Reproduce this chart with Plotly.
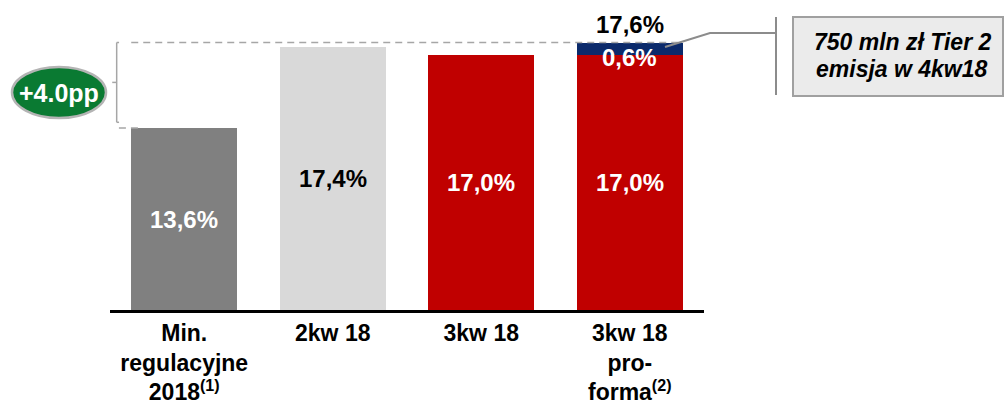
import plotly.graph_objects as go

# ---------------- data ----------------
categories = [
    "Min.<br>regulacyjne<br>2018<sup>(1)</sup>",
    "2kw 18",
    "3kw 18",
    "3kw 18<br>pro-<br>forma<sup>(2)</sup>",
]
base_values = [13.6, 17.4, 17.0, 17.0]
tier2_values = [0.6]          # stacked on the last bar
tier2_index = [3]
bar_colors = ["#808080", "#D9D9D9", "#C00000", "#C00000"]
label_colors = ["white", "black", "white", "white"]
tier2_color = "#0B2A6B"
note_lines = ["750 mln zł Tier 2", "emisja w 4kw18"]

# ---------------- layout constants ----------------
W, H = 1005, 405
ML, MR, MT, MB = 110, 301, 10, 95
PW, PH = W - ML - MR, H - MT - MB
Y_MIN = 5.1
Y_MAX = Y_MIN + PH / 21.4
BAR_W = 0.714
FONT = "Arial, 'Liberation Sans', sans-serif"
GREY = "#A6A6A6"


def fmt(v):
    return f"{v:.1f}".replace(".", ",") + "%"


def pxx(p):
    return (p - ML) / PW


def pxy(p):
    return (H - MB - p) / PH


xs = list(range(len(categories)))
total = base_values[tier2_index[0]] + tier2_values[0]
diff = total - base_values[0]

fig = go.Figure()
fig.add_trace(go.Bar(x=xs, y=base_values, marker=dict(color=bar_colors, line=dict(width=0)),
                     width=BAR_W, hoverinfo="skip", showlegend=False))
fig.add_trace(go.Bar(x=tier2_index, y=tier2_values, marker=dict(color=tier2_color, line=dict(width=0)),
                     width=BAR_W, hoverinfo="skip", showlegend=False))

annotations = []
for i, v in enumerate(base_values):
    annotations.append(dict(x=i, y=(Y_MIN + v) / 2, xref="x", yref="y", text=f"<b>{fmt(v)}</b>",
                            xanchor="center", yanchor="middle",
                            showarrow=False, font=dict(family=FONT, size=24, color=label_colors[i])))
# tier 2 segment label
annotations.append(dict(x=tier2_index[0], y=base_values[tier2_index[0]] + tier2_values[0] / 2,
                        xref="x", yref="y", yshift=-9, text=f"<b>{fmt(tier2_values[0])}</b>",
                        xanchor="center", yanchor="middle",
                        showarrow=False, font=dict(family=FONT, size=24, color="white")))
# total label
annotations.append(dict(x=tier2_index[0], y=total, xref="x", yref="y", yanchor="bottom", yshift=3,
                        xanchor="center", text=f"<b>{fmt(total)}</b>", showarrow=False,
                        font=dict(family=FONT, size=24, color="black")))
# +4.0pp badge text
annotations.append(dict(x=pxx(59), y=pxy(93), xref="paper", yref="paper",
                        xanchor="center", yanchor="middle",
                        text=f"<b>+{diff:.1f}pp</b>", showarrow=False,
                        font=dict(family=FONT, size=25, color="white")))
# note box text (two lines)
for line, py in zip(note_lines, [42, 69]):
    annotations.append(dict(x=pxx(902), y=pxy(py), xref="paper", yref="paper",
                            xanchor="center", yanchor="middle",
                            text=f"<b><i>{line}</i></b>", showarrow=False,
                            font=dict(family=FONT, size=23, color="black")))

shapes = []
dash_line = dict(color=GREY, width=1.5, dash="7px,5px")
# dashed reference lines
shapes.append(dict(type="line", xref="x", yref="y", x0=-BAR_W / 2, x1=xs[-1] + BAR_W / 2,
                   y0=total, y1=total, line=dash_line))
shapes.append(dict(type="line", xref="x", yref="y", x0=-0.44, x1=-0.30,
                   y0=base_values[0], y1=base_values[0], line=dash_line))
# bracket
br_x, br_hook, br_tick = -0.455, -0.439, -0.485
br_bot = Y_MIN + (H - MB - 122.3) / 21.4
br_mid = (total + br_bot) / 2
bl = dict(color=GREY, width=1.5)
shapes += [
    dict(type="line", xref="x", yref="y", x0=br_x, x1=br_x, y0=total, y1=br_bot, line=bl),
    dict(type="line", xref="x", yref="y", x0=br_x, x1=br_hook, y0=total, y1=total, line=bl),
    dict(type="line", xref="x", yref="y", x0=br_x, x1=br_hook, y0=br_bot, y1=br_bot, line=bl),
    dict(type="line", xref="x", yref="y", x0=br_tick, x1=br_x, y0=br_mid, y1=br_mid, line=bl),
]
# green ellipse
shapes.append(dict(type="circle", xref="paper", yref="paper", x0=pxx(12), x1=pxx(106),
                   y0=pxy(118), y1=pxy(67), fillcolor="#0A7A32", line=dict(color="#B4B4B4", width=2.5),
                   layer="above"))
# connector from tier2 segment to note
shapes.append(dict(type="path", xref="paper", yref="paper",
                   path=f"M {pxx(665)},{pxy(47)} L {pxx(710)},{pxy(33)} L {pxx(776)},{pxy(33)}",
                   line=dict(color="#8C8C8C", width=2)))
shapes.append(dict(type="line", xref="paper", yref="paper", x0=pxx(776), x1=pxx(776),
                   y0=pxy(17), y1=pxy(95), line=dict(color="#8C8C8C", width=2)))
# note box
shapes.append(dict(type="rect", xref="paper", yref="paper", x0=pxx(793), x1=pxx(1003),
                   y0=pxy(96), y1=pxy(17), fillcolor="#EBEBEB", line=dict(color="#A0A0A0", width=2)))

fig.update_layout(
    width=W, height=H, autosize=False,
    margin=dict(l=ML, r=MR, t=MT, b=MB, autoexpand=False),
    barmode="stack",
    plot_bgcolor="white", paper_bgcolor="white",
    annotations=annotations, shapes=shapes,
    xaxis=dict(tickvals=xs, ticktext=[f"<b>{c}</b>" for c in categories], range=[-0.5, len(xs) - 0.5],
               showline=True, linecolor="black", linewidth=3, showgrid=False, zeroline=False,
               automargin=False,
               ticks="", tickfont=dict(family=FONT, size=23, color="black")),
    yaxis=dict(range=[Y_MIN, Y_MAX], visible=False, showgrid=False, zeroline=False, automargin=False),
)

fig.write_html("out.html", config={"displayModeBar": False},
               post_script="document.body.style.margin='0px';document.body.style.overflow='hidden';")
